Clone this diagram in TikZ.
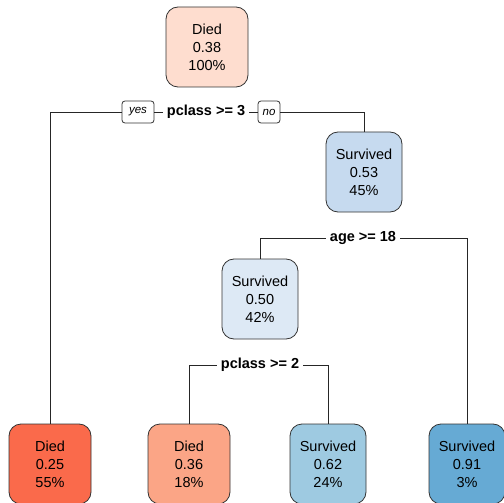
\documentclass[tikz,border=0pt]{standalone}
\usepackage{fontspec}
\setmainfont{Liberation Sans}
\usetikzlibrary{positioning}
\definecolor{diedlight}{HTML}{FEDDCF}
\definecolor{diedmid}{HTML}{FBA586}
\definecolor{dieddark}{HTML}{FA6A4B}
\definecolor{survlight}{HTML}{DDE9F5}
\definecolor{survmid}{HTML}{C6DAEF}
\definecolor{survdeep}{HTML}{9ECAE1}
\definecolor{survdark}{HTML}{66AAD4}
\tikzset{
    node distance=139pt, % centre to centre distance between the leaves
    leaf/.style={rectangle, rounded corners=12pt, draw=black!80, line width=0.8pt, align=center, minimum height=80pt, font=\fontsize{14.5}{18}\selectfont},
    died/.style={leaf, minimum width=82pt},
    surv/.style={leaf, minimum width=76pt},
    split/.style={inner xsep=4pt, font=\bfseries\fontsize{14.5}{18}\selectfont},
    yesno/.style={rectangle, rounded corners=3pt, draw=black!80, line width=0.8pt, minimum height=22pt, minimum width=22pt, inner xsep=4pt, font=\itshape\fontsize{11.5}{14}\selectfont},
    edge/.style={draw=black!85, line width=0.8pt},
}

\begin{document}
\begin{tikzpicture}[x=1pt, y=-1pt]
    \useasboundingbox (0,0) rectangle (504,503);
    \clip (0,0) rectangle (504,503);

    \node[died, fill=diedlight] (root) at (207,47) {Died\\0.38\\100\%};
    \node[surv, fill=survmid] (n2) at (364,172) {Survived\\0.53\\45\%};
    \node[surv, fill=survlight] (n3) at (260,299) {Survived\\0.50\\42\%};

    \node[died, fill=dieddark] (d25) at (50,464) {Died\\0.25\\55\%};
    \node[died, fill=diedmid, right of=d25] (d36) {Died\\0.36\\18\%};
    \node[surv, fill=survdeep, right of=d36] (s62) {Survived\\0.62\\24\%};
    \node[surv, fill=survdark, right of=s62] (s91) {Survived\\0.91\\3\%};

    \node[split] (q1) at (206,112) {pclass >= 3};
    \node[yesno, minimum width=32pt] (yes) at (138,112) {yes};
    \node[yesno] (no) at (269,112) {no};
    \node[split] (q2) at (363,238) {age >= 18};
    \node[split] (q3) at (260,365) {pclass >= 2};

    \path[edge]
        (d25) |- (yes) -- (q1) -- (no) -| (n2)
        (n3) |- (q2) -| (s91)
        (d36) |- (q3) -| (s62);
\end{tikzpicture}
\end{document}
